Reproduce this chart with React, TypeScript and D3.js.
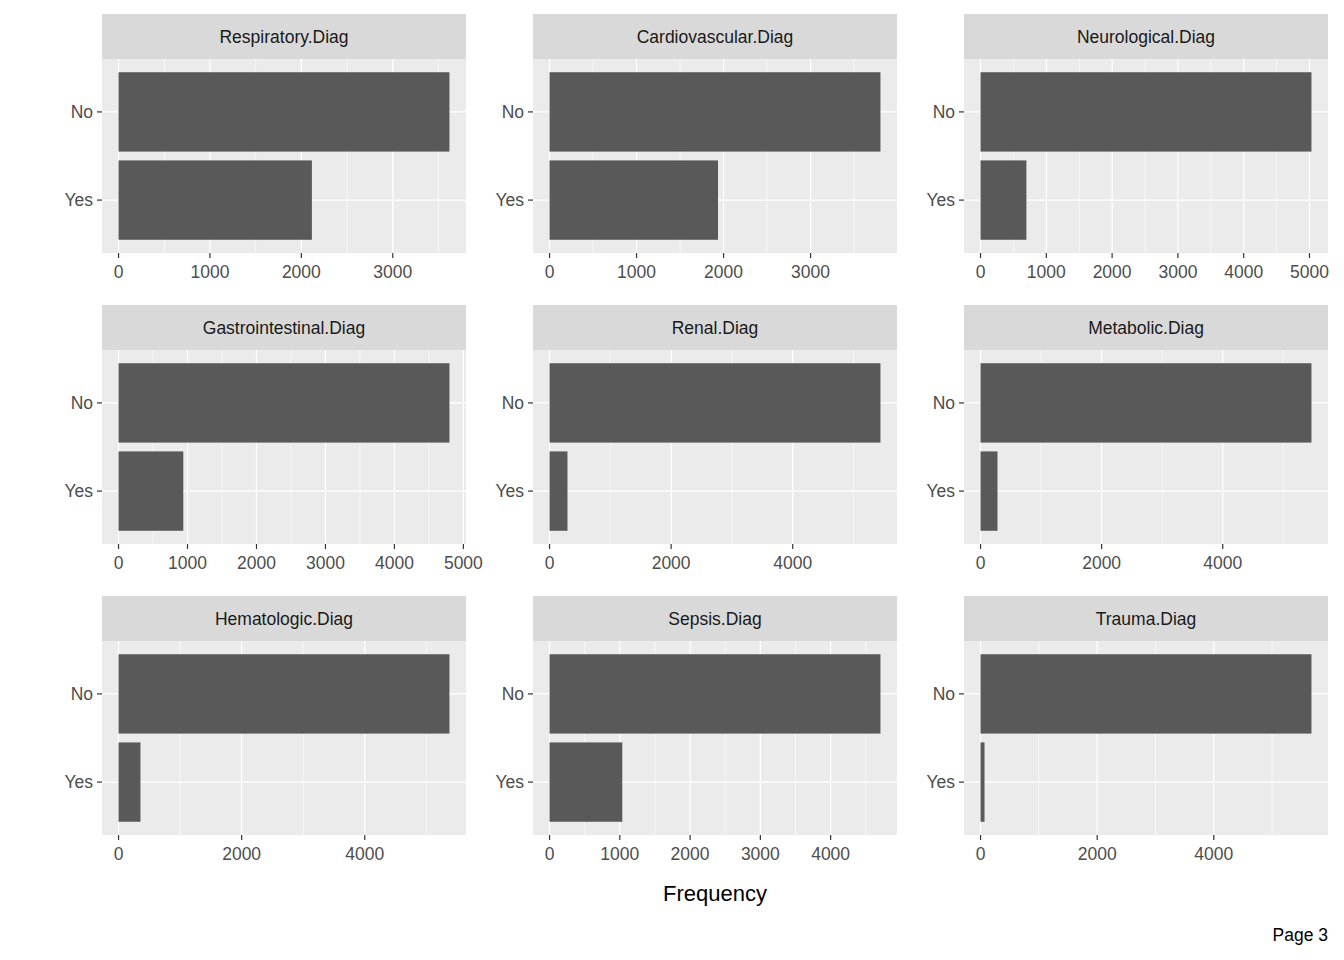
import React from "react";
import * as d3 from "d3";

const panels = ["Respiratory.Diag","Cardiovascular.Diag","Neurological.Diag","Gastrointestinal.Diag","Renal.Diag","Metabolic.Diag","Hematologic.Diag","Sepsis.Diag","Trauma.Diag"];
const categories = ["No","Yes"];
const noValues = [3620,3803,5030,4798,5443,5465,5376,4709,5675];
const yesValues = [2115,1936,697,939,295,280,356,1035,68];
const tickSets = [[0,1000,2000,3000],[0,1000,2000,3000],[0,1000,2000,3000,4000,5000],[0,1000,2000,3000,4000,5000],[0,2000,4000],[0,2000,4000],[0,2000,4000],[0,1000,2000,3000,4000],[0,2000,4000]];

const colX = [102,533,964];
const rowY = [14,305,596];
const PW = 364, SH = 45, PH = 194;
const FONT = "Liberation Sans, Arial, sans-serif";

export default function App() {
  return (
    <svg width={1344} height={960} style={{position:"absolute",left:0,top:0}} fontFamily={FONT}>
      <rect width={1344} height={960} fill="#fff"/>
      {panels.map((name,i)=>{
        const x0 = colX[i%3], y0 = rowY[Math.floor(i/3)];
        const py = y0+SH;
        const maxV = Math.max(noValues[i], yesValues[i]);
        const x = d3.scaleLinear().domain([-0.05*maxV, maxV*1.05]).range([x0, x0+PW]);
        const y = d3.scaleBand().domain(categories).range([py, py+PH]).paddingInner(0.1).paddingOuter(0.6*1/1.1* (1)).align(0.5);
        // ggplot: discrete expansion 0.6 units, band width 0.9
        const unit = PH/2.2;
        const center = (k:number)=> py + unit*(0.6+k);
        const ticks = tickSets[i];
        const step = ticks[1]-ticks[0];
        const minors:number[] = [];
        for (let v=ticks[0]-step/2; v<=maxV*1.05; v+=step) { if (v>=-0.05*maxV) minors.push(v); }
        const vals = [noValues[i], yesValues[i]];
        return (
          <g key={name}>
            <rect x={x0} y={py} width={PW} height={PH} fill="#ebebeb"/>
            {minors.map(v=><line key={"m"+v} x1={x(v)} x2={x(v)} y1={py} y2={py+PH} stroke="#fff" strokeWidth={0.6}/>)}
            {ticks.map(v=><line key={"M"+v} x1={x(v)} x2={x(v)} y1={py} y2={py+PH} stroke="#fff" strokeWidth={1.2}/>)}
            {categories.map((c,k)=><line key={c} x1={x0} x2={x0+PW} y1={center(k)} y2={center(k)} stroke="#fff" strokeWidth={1.2}/>)}
            {categories.map((c,k)=><rect key={"b"+c} x={x(0)} y={center(k)-unit*0.45} width={x(vals[k])-x(0)} height={unit*0.9} fill="#595959"/>)}
            <rect x={x0} y={y0} width={PW} height={SH} fill="#d9d9d9"/>
            <text x={x0+PW/2} y={y0+SH/2} dy="0.35em" textAnchor="middle" fontSize={17.5} fill="#1a1a1a">{name}</text>
            {categories.map((c,k)=>(
              <g key={"t"+c}>
                <line x1={x0-5} x2={x0} y1={center(k)} y2={center(k)} stroke="#333" strokeWidth={1.2}/>
                <text x={x0-9} y={center(k)} dy="0.35em" textAnchor="end" fontSize={17.5} fill="#4d4d4d">{c}</text>
              </g>
            ))}
            {ticks.map(v=>(
              <g key={"xt"+v}>
                <line x1={x(v)} x2={x(v)} y1={py+PH} y2={py+PH+5} stroke="#333" strokeWidth={1.2}/>
                <text x={x(v)} y={py+PH+25} textAnchor="middle" fontSize={17.5} fill="#4d4d4d">{v}</text>
              </g>
            ))}
          </g>
        );
      })}
      <text x={715} y={901} textAnchor="middle" fontSize={22} fill="#000">Frequency</text>
      <text x={1328} y={941} textAnchor="end" fontSize={17.5} fill="#000">Page 3</text>
    </svg>
  );
}
